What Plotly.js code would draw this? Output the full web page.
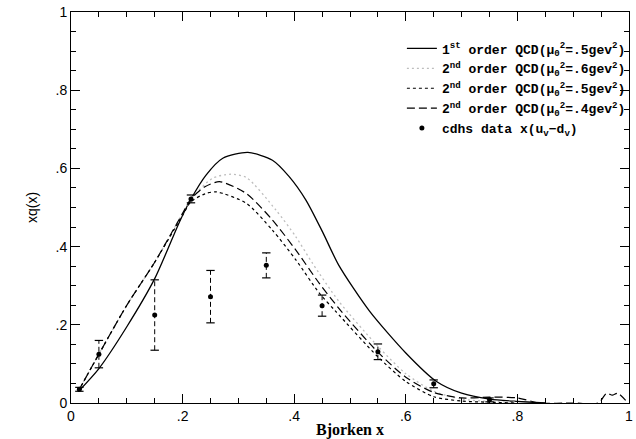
<!DOCTYPE html>
<html>
<head>
<meta charset="utf-8">
<script src="https://cdn.plot.ly/plotly-3.0.1.min.js"></script>
<style>html,body{margin:0;padding:0;background:#fff;}#chart{width:636px;height:439px;}</style>
</head>
<body>
<div id="chart"></div>
<script>
// 1st order QCD, mu0^2 = .5
const x1st = [0.013, 0.05, 0.1, 0.15, 0.195, 0.2155, 0.242, 0.272, 0.317, 0.361, 0.391, 0.421, 0.451, 0.48, 0.535, 0.6, 0.655, 0.7, 0.75, 0.8, 0.85];
const y1st = [0.029, 0.088, 0.195, 0.318, 0.465, 0.523, 0.583, 0.626, 0.641, 0.621, 0.579, 0.519, 0.437, 0.352, 0.235, 0.128, 0.055, 0.025, 0.01, 0.004, 0.0];
// 2nd order, mu0^2 = .6
const x2nd6 = [0.013, 0.05, 0.1, 0.15, 0.2, 0.215, 0.254, 0.285, 0.314, 0.367, 0.403, 0.433, 0.48, 0.55, 0.6, 0.65, 0.7, 0.75, 0.8];
const y2nd6 = [0.03, 0.125, 0.25, 0.36, 0.485, 0.522, 0.575, 0.585, 0.577, 0.494, 0.425, 0.357, 0.26, 0.145, 0.075, 0.03, 0.01, 0.004, 0.002];
// 2nd order, mu0^2 = .5
const x2nd5 = [0.013, 0.05, 0.1, 0.15, 0.2, 0.215, 0.24, 0.26, 0.314, 0.361, 0.403, 0.445, 0.474, 0.55, 0.6, 0.65, 0.7, 0.75, 0.8];
const y2nd5 = [0.03, 0.125, 0.25, 0.36, 0.48, 0.515, 0.535, 0.54, 0.511, 0.442, 0.366, 0.281, 0.235, 0.118, 0.055, 0.016, 0.005, 0.002, 0.0];
// 2nd order, mu0^2 = .4
const x2nd4 = [0.013, 0.05, 0.1, 0.15, 0.2, 0.215, 0.24, 0.266, 0.314, 0.361, 0.403, 0.445, 0.486, 0.55, 0.6, 0.65, 0.7, 0.75, 0.8, 0.84, 0.9, 0.945, 0.96, 0.97, 0.98, 0.998];
const y2nd4 = [0.03, 0.125, 0.25, 0.36, 0.485, 0.522, 0.553, 0.566, 0.536, 0.468, 0.391, 0.306, 0.232, 0.13, 0.066, 0.027, 0.013, 0.015, 0.013, 0.0, 0.0, 0.0, 0.025, 0.02, 0.025, 0.0];
// CDHS data x(u_v - d_v)
const xData = [0.015, 0.05, 0.15, 0.215, 0.25, 0.35, 0.45, 0.55, 0.65, 0.75];
const yData = [0.035, 0.125, 0.225, 0.522, 0.272, 0.352, 0.249, 0.131, 0.049, 0.008];
const errData = [0.005, 0.035, 0.09, 0.01, 0.067, 0.032, 0.027, 0.02, 0.01, 0.005];

const legendNames = [
  "1<sup>st</sup> order QCD(μ<sub>0</sub><sup>2</sup>=.5gev<sup>2</sup>)",
  "2<sup>nd</sup> order QCD(μ<sub>0</sub><sup>2</sup>=.6gev<sup>2</sup>)",
  "2<sup>nd</sup> order QCD(μ<sub>0</sub><sup>2</sup>=.5gev<sup>2</sup>)",
  "2<sup>nd</sup> order QCD(μ<sub>0</sub><sup>2</sup>=.4gev<sup>2</sup>)",
  "cdhs data x(u<sub>v</sub>−d<sub>v</sub>)"
];
const xTickVals = [0, 0.2, 0.4, 0.6, 0.8, 1];
const xTickText = ["0", ".2", ".4", ".6", ".8", "1"];
const yTickVals = [0, 0.2, 0.4, 0.6, 0.8, 1];
const yTickText = ["0", ".2", ".4", ".6", ".8", "1"];

// error bar segments built from data arrays
const barX = [], barY = [], capX = [], capY = [];
for (let i = 0; i < xData.length; i++) {
  barX.push(xData[i], xData[i], null);
  barY.push(yData[i] - errData[i], yData[i] + errData[i], null);
  capX.push(xData[i], xData[i]);
  capY.push(yData[i] - errData[i], yData[i] + errData[i]);
}

const sp = {shape: 'spline', smoothing: 0.7};
const traces = [
  {x: x1st, y: y1st, mode: 'lines', name: legendNames[0], line: Object.assign({color: '#000', width: 1.3}, sp)},
  {x: x2nd6, y: y2nd6, mode: 'lines', name: legendNames[1], line: Object.assign({color: '#bdbdbd', width: 1.3, dash: '2px,3px'}, sp)},
  {x: x2nd5, y: y2nd5, mode: 'lines', name: legendNames[2], line: Object.assign({color: '#000', width: 1.2, dash: '3px,3px'}, sp)},
  {x: x2nd4, y: y2nd4, mode: 'lines', name: legendNames[3], line: Object.assign({color: '#000', width: 1.2, dash: '8px,4px'}, sp)},
  {x: barX, y: barY, mode: 'lines', showlegend: false, hoverinfo: 'skip', line: {color: '#000', width: 1, dash: '5px,3px'}},
  {x: capX, y: capY, mode: 'markers', showlegend: false, hoverinfo: 'skip', marker: {symbol: 'line-ew', size: 6, line: {color: '#000', width: 1.2}}},
  {x: xData, y: yData, mode: 'markers', name: legendNames[4], marker: {symbol: 'circle', size: 5, color: '#000'}}
];

const tickFont = {family: 'Liberation Sans, Arial, sans-serif', size: 14, color: '#000'};
const layout = {
  width: 636, height: 439,
  margin: {l: 71, r: 5, t: 12, b: 36},
  paper_bgcolor: '#fff', plot_bgcolor: '#fff',
  showlegend: true,
  legend: {x: 0.593, y: 0.945, xanchor: 'left', yanchor: 'top', bgcolor: 'rgba(0,0,0,0)', borderwidth: 0,
    font: {family: 'Liberation Mono, Courier New, monospace', size: 13, color: '#000', weight: 'bold'},
    tracegroupgap: 0, itemwidth: 30},
  xaxis: {range: [0, 1], tickvals: xTickVals, ticktext: xTickText, ticks: 'inside', ticklen: 9, tickwidth: 1, tickcolor: '#000',
    showline: true, linecolor: '#000', linewidth: 1, mirror: 'allticks', showgrid: false, zeroline: false,
    tickfont: tickFont, automargin: false,
    minor: {dtick: 0.05, tick0: 0, ticks: 'inside', ticklen: 5, tickcolor: '#000', showgrid: false},
    title: {text: 'Bjorken x', standoff: 3, font: {family: 'Liberation Serif, Times New Roman, serif', size: 16, color: '#000', weight: 'bold'}}},
  yaxis: {range: [0, 1], tickvals: yTickVals, ticktext: yTickText, ticks: 'inside', ticklen: 9, tickwidth: 1, tickcolor: '#000',
    showline: true, linecolor: '#000', linewidth: 1, mirror: 'allticks', showgrid: false, zeroline: false,
    tickfont: tickFont, automargin: false,
    minor: {dtick: 0.05, tick0: 0, ticks: 'inside', ticklen: 5, tickcolor: '#000', showgrid: false},
    title: {text: 'xq(x)', standoff: 14, font: {family: 'Liberation Sans, Arial, sans-serif', size: 14, color: '#000'}}}
};
Plotly.newPlot('chart', traces, layout, {displayModeBar: false, staticPlot: true});
</script>
</body>
</html>
